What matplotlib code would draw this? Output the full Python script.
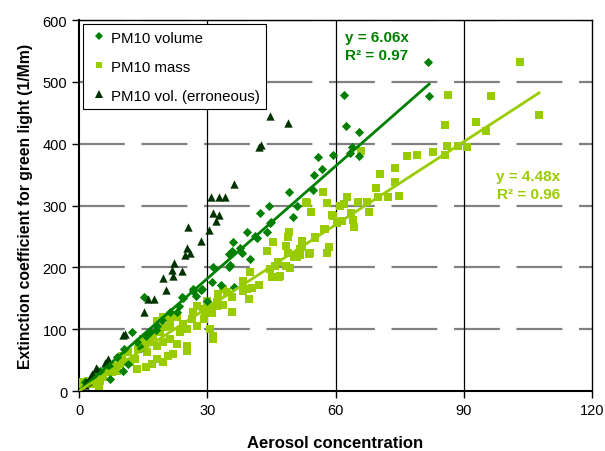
import numpy as np
import matplotlib
matplotlib.use("Agg")
import matplotlib.pyplot as plt
from matplotlib.lines import Line2D

plt.rcParams['font.family'] = ['Liberation Sans', 'DejaVu Sans']
plt.rcParams['lines.scale_dashes'] = False

# PM10 volume (diamonds)
vol_x = [1.4, 3.3, 5.0, 7.3, 7.3, 9.0, 10.3, 11.5, 10.5, 12.4, 13.6, 14.5, 15.2, 15.7,
         16.6, 18.0, 18.2, 19.5, 21.3, 22.9, 23.5, 24.1, 24.3, 26.7, 26.7, 27.4, 28.5,
         28.8, 30.0, 31.1, 31.3, 33.2, 35.1, 35.1, 35.3, 35.8, 36.0, 36.3, 37.7, 38.1,
         39.3, 40.0, 41.2, 41.6, 42.3, 44.0, 44.4, 44.7, 45.0, 49.1, 50.0, 51.0, 54.7,
         55.0, 55.9, 56.8, 59.4, 62.0, 62.5, 63.4, 63.9, 65.5, 65.5, 81.6, 81.9]
vol_y = [15, 25, 32, 20, 39, 55, 33, 44, 68, 96, 79, 70, 152, 89,
         95, 99, 105, 115, 128, 128, 137, 152, 150, 162, 165, 154, 163,
         165, 146, 176, 200, 171, 222, 200, 204, 227, 241, 168, 231, 223,
         257, 213, 250, 247, 288, 257, 300, 272, 273, 322, 282, 300, 325,
         350, 379, 359, 382, 479, 428, 385, 395, 419, 380, 532, 477]

# PM10 mass (squares)
mass_x = [0.0, 0.6, 2.1, 3.0, 4.2, 4.7, 4.9, 5.6, 6.5, 7.7, 8.0, 8.9, 9.6, 10.1, 10.8,
          11.5, 11.9, 13.1, 13.6, 13.8, 15.0, 15.0, 15.7, 15.9, 16.6, 17.1, 17.3, 18.2,
          18.2, 18.2, 18.9, 19.7, 19.7, 19.7, 20.1, 20.8, 21.3, 21.3, 21.3, 22.0, 22.9,
          22.9, 23.6, 24.3, 25.3, 25.3, 25.3, 26.4, 26.7, 27.6, 27.6, 29.0, 29.2, 29.5,
          29.9, 30.6, 30.6, 31.1, 31.3, 31.3, 32.3, 32.3, 32.5, 33.7, 33.7, 34.6, 35.8,
          35.8, 38.4, 38.4, 39.3, 39.8, 40.0, 40.5, 42.1, 44.0, 44.7, 45.1, 45.4, 45.8,
          46.5, 46.8, 47.0, 48.4, 48.4, 48.9, 48.9, 49.1, 49.4, 50.3, 51.0, 51.2, 51.7,
          51.7, 52.2, 52.2, 53.1, 53.3, 53.8, 54.0, 54.3, 55.2, 55.2, 57.0, 57.3, 57.5,
          58.0, 58.0, 58.5, 59.2, 59.4, 60.3, 60.4, 61.0, 61.5, 62.0, 62.7, 63.7, 64.1,
          64.3, 65.3, 66.0, 67.4, 67.9, 69.5, 69.9, 70.4, 72.3, 73.9, 73.9, 74.9, 76.7,
          79.1, 82.8, 85.6, 85.6, 86.1, 86.3, 88.6, 90.8, 92.9, 95.2, 96.4, 103.2, 107.6]
mass_y = [12, 15, 17, 11, 20, 8, 17, 23, 31, 31, 41, 33, 44, 57, 47,
          63, 47, 52, 36, 68, 73, 84, 39, 63, 79, 44, 89, 52,
          73, 113, 95, 47, 79, 120, 103, 57, 84, 105, 116, 60, 76,
          120, 95, 108, 65, 73, 100, 116, 128, 105, 137, 133, 116, 128,
          146, 100, 137, 126, 84, 89, 137, 144, 157, 139, 165, 160, 128,
          152, 162, 178, 165, 149, 193, 166, 171, 227, 197, 184, 241, 202,
          208, 184, 186, 202, 235, 223, 249, 257, 199, 216, 216, 222, 220,
          230, 233, 243, 305, 304, 222, 223, 289, 247, 249, 322, 262, 262,
          223, 304, 233, 285, 283, 272, 274, 300, 275, 302, 313, 288, 277,
          265, 306, 388, 306, 289, 328, 314, 351, 313, 338, 361, 315, 380,
          382, 387, 382, 430, 396, 479, 396, 394, 435, 420, 477, 532, 446]

# PM10 vol. (erroneous) (triangles)
err_x = [1.4, 1.6, 2.1, 2.8, 3.0, 4.0, 4.2, 6.1, 6.6, 6.8, 10.3, 10.8, 15.2, 16.1, 17.5,
         20.3, 19.7, 22.0, 21.8, 24.1, 22.2, 24.8, 26.0, 25.2, 28.6, 25.5, 30.5, 32.1,
         31.4, 32.8, 30.9, 32.8, 34.2, 36.3, 42.1, 42.5, 44.7, 48.9]
err_y = [10, 15, 17, 24, 27, 37, 36, 45, 49, 52, 90, 93, 128, 149, 149,
         163, 182, 186, 195, 194, 207, 220, 223, 232, 243, 265, 261, 275,
         288, 285, 314, 314, 314, 335, 394, 398, 445, 433]

vol_slope = 6.06
mass_slope = 4.48

c_vol = '#008000'
c_mass = '#99CC00'
c_err = '#003300'

fig = plt.figure(figsize=(6.05, 4.52), dpi=100)
ax = fig.add_axes([0.1306, 0.1327, 0.8479, 0.8208])

# grid
for yv in range(100, 601, 100):
    ax.axhline(yv, color='#808080', lw=1.6, linestyle=(0, (33, 12)), zorder=1)
for xv in [30, 60, 90]:
    ax.axvline(xv, color='black', lw=0.9, zorder=1)

ax.scatter(mass_x, mass_y, marker='s', s=28, color=c_mass, linewidths=0, zorder=3)
ax.scatter(vol_x, vol_y, marker='D', s=22, color=c_vol, linewidths=0, zorder=4)
ax.scatter(err_x, err_y, marker='^', s=36, color=c_err, linewidths=0, zorder=5)

xv_line = np.array([0, max(vol_x)])
ax.plot(xv_line, vol_slope * xv_line, color=c_vol, lw=2, zorder=6)
xm_line = np.array([0, max(mass_x)])
ax.plot(xm_line, mass_slope * xm_line, color=c_mass, lw=2, zorder=6)

ax.text(62.2, 558, f'y = {vol_slope:.2f}x\nR² = 0.97', color=c_vol, fontsize=11,
        fontweight='bold', va='center', ha='left', linespacing=1.3)
ax.text(112.6, 333, f'y = {mass_slope:.2f}x\nR² = 0.96', color=c_mass, fontsize=11,
        fontweight='bold', va='center', ha='right', multialignment='right', linespacing=1.3)

ax.set_xlim(0, 120)
ax.set_ylim(0, 600)
ax.set_xticks([0, 30, 60, 90, 120])
ax.set_yticks(range(0, 601, 100))
ax.tick_params(direction='out', length=5, width=1, labelsize=10.5, colors='black')
for sp in ax.spines.values():
    sp.set_color('black')
    sp.set_linewidth(1)
ax.spines['left'].set_linewidth(1.5)
ax.spines['bottom'].set_linewidth(1.5)

ax.set_xlabel('Aerosol concentration', fontsize=12, fontweight='bold', labelpad=13)
ax.set_ylabel('Extinction coefficient for green light (1/Mm)', fontsize=11.3,
              fontweight='bold', labelpad=7)

handles = [
    Line2D([], [], marker='D', color=c_vol, ls='none', markersize=4.5, markeredgewidth=0),
    Line2D([], [], marker='s', color=c_mass, ls='none', markersize=5, markeredgewidth=0),
    Line2D([], [], marker='^', color=c_err, ls='none', markersize=5.5, markeredgewidth=0),
]
leg = ax.legend(handles, ['PM10 volume', 'PM10 mass', 'PM10 vol. (erroneous)'],
                loc='upper left', fontsize=10.8, fancybox=False, framealpha=1,
                edgecolor='black', borderaxespad=0.25, handletextpad=0.2,
                handlelength=1.2, labelspacing=1.0, borderpad=0.45)
leg.get_frame().set_linewidth(0.8)
leg.set_zorder(10)

fig.savefig('out.png', dpi=100)
